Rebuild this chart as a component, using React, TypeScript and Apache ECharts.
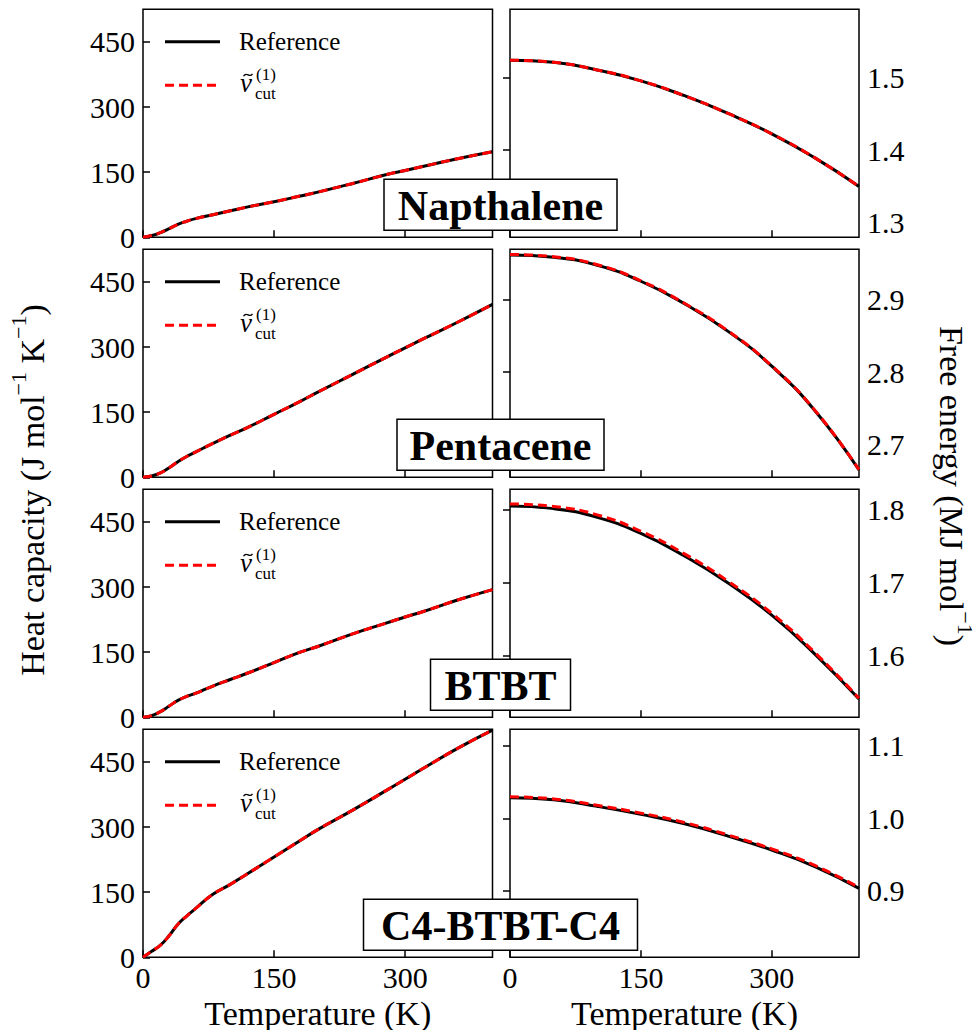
import React, { useEffect, useRef } from 'react';
import * as echarts from 'echarts';

// ---------- data ----------
const tempsCp = [0, 10, 20, 30, 40, 50, 60, 80, 100, 120, 150, 180, 200, 240, 280, 300, 320, 360, 400];
const naphCpRef = [0, 4, 11, 20, 30, 37, 43, 52, 61, 70, 82, 95, 104, 124, 145, 154, 163, 181, 197];
const naphCpCut = [0, 4, 11, 20, 30, 37, 43, 52, 61, 70, 82, 95, 104, 124, 145, 154, 163, 181, 197];
const pentCpRef = [0, 3, 10, 22, 36, 48, 58, 78, 97, 115, 145, 175, 196, 237, 278, 298, 318, 357, 398];
const pentCpCut = [0, 3, 10, 22, 36, 48, 58, 78, 97, 115, 145, 175, 196, 237, 278, 298, 318, 357, 398];
const btbtCpRef = [0, 4, 13, 26, 39, 48, 55, 72, 87, 102, 126, 150, 163, 192, 218, 231, 243, 270, 294];
const btbtCpCut = [0, 4, 13, 26, 39, 48, 55, 72, 87, 102, 126, 150, 163, 192, 218, 231, 243, 270, 294];
const c4CpRef = [0, 14, 28, 50, 76, 95, 112, 145, 168, 193, 231, 269, 294, 339, 386, 410, 434, 481, 523];
const c4CpCut = [0, 14, 28, 50, 76, 95, 112, 145, 168, 193, 231, 269, 294, 339, 386, 410, 434, 481, 523];

const tempsF = [0, 50, 100, 150, 200, 250, 300, 350, 400];
const naphFRef = [1.524, 1.521, 1.5105, 1.4955, 1.475, 1.4505, 1.4225, 1.389, 1.35];
const naphFCut = [1.524, 1.521, 1.5105, 1.4955, 1.475, 1.4505, 1.4225, 1.389, 1.35];
const pentFRef = [2.961, 2.958, 2.947, 2.925, 2.894, 2.856, 2.808, 2.746, 2.665];
const pentFCut = [2.962, 2.9588, 2.9478, 2.9256, 2.8946, 2.8565, 2.8085, 2.7465, 2.6655];
const btbtFRef = [1.8046, 1.801, 1.789, 1.767, 1.736, 1.699, 1.655, 1.601, 1.54];
const btbtFCut = [1.8075, 1.804, 1.7925, 1.77, 1.739, 1.7015, 1.6575, 1.603, 1.541];
const c4FRef = [1.0286, 1.0256, 1.0165, 1.0055, 0.9925, 0.9755, 0.9562, 0.933, 0.9032];
const c4FCut = [1.0298, 1.0268, 1.018, 1.0072, 0.9942, 0.977, 0.9578, 0.9345, 0.9045];

const molecules = ['Napthalene', 'Pentacene', 'BTBT', 'C4-BTBT-C4'];
const cpRefs = [naphCpRef, pentCpRef, btbtCpRef, c4CpRef];
const cpCuts = [naphCpCut, pentCpCut, btbtCpCut, c4CpCut];
const fRefs = [naphFRef, pentFRef, btbtFRef, c4FRef];
const fCuts = [naphFCut, pentFCut, btbtFCut, c4FCut];

const tempTicks = [0, 150, 300];
const cpTicks = [0, 150, 300, 450];
const fTicks = [
  [1.3, 1.4, 1.5],
  [2.7, 2.8, 2.9],
  [1.6, 1.7, 1.8],
  [0.9, 1.0, 1.1],
];
const fRanges = [
  [1.28, 1.594],
  [2.655, 2.969],
  [1.515, 1.8275],
  [0.808, 1.123],
];
const cpRange = [0, 525];
const tempRange = [0, 400];

const legendRef = 'Reference';
const xTitle = 'Temperature (K)';

// ---------- layout ----------
const FONT = 'Liberation Serif, DejaVu Serif, serif';
const rowTops = [9.3, 249.3, 489.3, 729.3];
const panelH = 228;
const leftX = 143;
const leftW = 349.5;
const rightX = 510;
const rightW = 349;
const boxWidths = [233, 207, 140, 274];
const boxCx = 500.5;

export default function App() {
  const ref = useRef<HTMLDivElement>(null);

  useEffect(() => {
    const chart = echarts.init(ref.current!, null, { renderer: 'svg' });

    const grids: any[] = [];
    const xAxes: any[] = [];
    const yAxes: any[] = [];
    const series: any[] = [];
    const graphics: any[] = [];

    const tickStyle = { color: '#000', width: 1.5 };

    for (let r = 0; r < 4; r++) {
      const top = rowTops[r];
      const isBottom = r === 3;
      grids.push({ left: leftX, top, width: leftW, height: panelH, show: true, borderColor: '#000', borderWidth: 1.5, backgroundColor: 'transparent' });
      grids.push({ left: rightX, top, width: rightW, height: panelH, show: true, borderColor: '#000', borderWidth: 1.5, backgroundColor: 'transparent' });
      const gL = r * 2;
      const gR = r * 2 + 1;
      for (const g of [gL, gR]) {
        xAxes.push({
          gridIndex: g,
          type: 'value',
          min: tempRange[0],
          max: tempRange[1],
          axisLine: { show: false },
          splitLine: { show: false },
          axisTick: { show: true, inside: true, length: 7, lineStyle: tickStyle, customValues: tempTicks },
          axisLabel: {
            show: isBottom,
            customValues: tempTicks,
            fontFamily: FONT,
            fontSize: 30,
            color: '#000',
            margin: 5,
          },
        });
      }
      yAxes.push({
        gridIndex: gL,
        type: 'value',
        position: 'left',
        min: cpRange[0],
        max: cpRange[1],
        axisLine: { show: false },
        splitLine: { show: false },
        axisTick: { show: true, inside: true, length: 7, lineStyle: tickStyle, customValues: cpTicks },
        axisLabel: { customValues: cpTicks, fontFamily: FONT, fontSize: 30, color: '#000', margin: 8 },
      });
      yAxes.push({
        gridIndex: gR,
        type: 'value',
        position: 'right',
        min: fRanges[r][0],
        max: fRanges[r][1],
        axisLine: { show: false },
        splitLine: { show: false },
        axisTick: { show: true, inside: true, length: 7, lineStyle: tickStyle, customValues: fTicks[r] },
        axisLabel: {
          customValues: fTicks[r],
          fontFamily: FONT,
          fontSize: 30,
          color: '#000',
          margin: 8,
          formatter: (v: number) => v.toFixed(1),
        },
      });

      const mk = (xi: number, xs: number[], ys: number[], name: string, dashed: boolean) => ({
        type: 'line',
        name,
        xAxisIndex: xi,
        yAxisIndex: xi,
        data: xs.map((x, i) => [x, ys[i]]),
        showSymbol: false,
        symbol: 'none',
        smooth: 0.5,
        lineStyle: dashed
          ? { color: '#ff0000', width: 3, type: [9, 5] }
          : { color: '#000', width: 3, type: 'solid' },
        z: dashed ? 3 : 2,
      });
      series.push(mk(gL, tempsCp, cpRefs[r], legendRef, false));
      series.push(mk(gL, tempsCp, cpCuts[r], 'ν̃cut(1)', true));
      series.push(mk(gR, tempsF, fRefs[r], legendRef, false));
      series.push(mk(gR, tempsF, fCuts[r], 'ν̃cut(1)', true));

      // legend (drawn)
      graphics.push({ type: 'line', z: 100, shape: { x1: 165, y1: top + 32.5, x2: 220, y2: top + 32.5 }, style: { stroke: '#000', lineWidth: 3 } });
      graphics.push({ type: 'text', z: 100, x: 239, y: top + 32.5, style: { text: legendRef, fontFamily: FONT, fontSize: 25, fill: '#000', verticalAlign: 'middle', align: 'left' } });
      graphics.push({ type: 'line', z: 100, shape: { x1: 165, y1: top + 76, x2: 220, y2: top + 76 }, style: { stroke: '#ff0000', lineWidth: 3, lineDash: [9, 5] } });
      graphics.push({
        type: 'bezierCurve', z: 100,
        shape: { x1: 243.5, y1: top + 67, cpx1: 246.5, cpy1: top + 61.5, cpx2: 249.5, cpy2: top + 69.5, x2: 252.5, y2: top + 64.5 },
        style: { stroke: '#000', lineWidth: 1.3, fill: 'none' },
      });
      graphics.push({ type: 'text', z: 100, x: 240, y: top + 74, style: { text: 'ν', fontFamily: FONT, fontStyle: 'italic', fontSize: 27, fill: '#000', verticalAlign: 'middle', align: 'left' } });
      graphics.push({ type: 'text', z: 100, x: 256, y: top + 65.5, style: { text: '(1)', fontFamily: FONT, fontSize: 17, fill: '#000', verticalAlign: 'middle', align: 'left' } });
      graphics.push({ type: 'text', z: 100, x: 255, y: top + 84.5, style: { text: 'cut', fontFamily: FONT, fontSize: 17, fill: '#000', verticalAlign: 'middle', align: 'left' } });

      // molecule label box
      const bw = boxWidths[r];
      const bh = 51;
      const by = top + panelH - 7 - bh;
      graphics.push({ type: 'rect', z: 110, shape: { x: boxCx - bw / 2, y: by, width: bw, height: bh }, style: { fill: '#fff', stroke: '#000', lineWidth: 1.5 } });
      graphics.push({ type: 'text', z: 111, x: boxCx, y: by + bh / 2 + 1, style: { text: molecules[r], fontFamily: FONT, fontWeight: 'bold', fontSize: 42, fill: '#000', align: 'center', verticalAlign: 'middle' } });
    }

    // axis titles
    graphics.push({ type: 'text', z: 100, x: (leftX + leftW / 2), y: 1013, style: { text: xTitle, fontFamily: FONT, fontSize: 34, fill: '#000', align: 'center', verticalAlign: 'middle' } });
    graphics.push({ type: 'text', z: 100, x: (rightX + rightW / 2), y: 1013, style: { text: xTitle, fontFamily: FONT, fontSize: 34, fill: '#000', align: 'center', verticalAlign: 'middle' } });
    graphics.push({
      type: 'text', z: 100, x: 28, y: 490, rotation: Math.PI / 2,
      style: {
        text: '{a|Heat capacity (J mol}{s|−1}{a| K}{s|−1}{a|)}',
        rich: {
          a: { fontFamily: FONT, fontSize: 34, lineHeight: 42, verticalAlign: 'bottom', fill: '#000' },
          s: { fontFamily: FONT, fontSize: 22, lineHeight: 22, verticalAlign: 'top', fill: '#000' },
        },
        align: 'center', verticalAlign: 'middle',
      },
    });
    graphics.push({
      type: 'text', z: 100, x: 955, y: 486, rotation: -Math.PI / 2,
      style: {
        text: '{a|Free energy (MJ mol}{s|−1}{a|)}',
        rich: {
          a: { fontFamily: FONT, fontSize: 34, lineHeight: 42, verticalAlign: 'bottom', fill: '#000' },
          s: { fontFamily: FONT, fontSize: 22, lineHeight: 22, verticalAlign: 'top', fill: '#000' },
        },
        align: 'center', verticalAlign: 'middle',
      },
    });

    chart.setOption({
      animation: false,
      backgroundColor: '#fff',
      grid: grids,
      xAxis: xAxes,
      yAxis: yAxes,
      series,
      graphic: graphics,
    });
    return () => chart.dispose();
  }, []);

  return <div ref={ref} style={{ position: 'absolute', left: 0, top: 0, width: 979, height: 1030 }} />;
}
